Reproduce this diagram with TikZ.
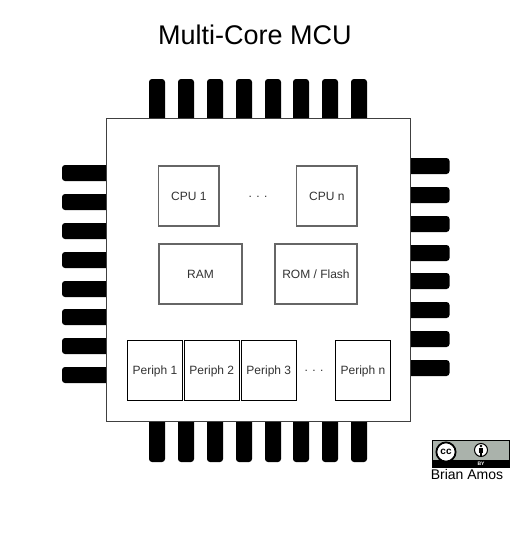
\documentclass[tikz,border=0pt]{standalone}
\usepackage{fontspec}
\setmainfont{Liberation Sans}
\definecolor{boxgray}{HTML}{666666}
\definecolor{labelgray}{HTML}{333333}
\definecolor{ccgray}{HTML}{AAB2AB}
\tikzset{
	pinbox/.style={fill=black,rounded corners=3pt,inner sep=0pt},
	corebox/.style={draw=boxgray,line width=1.2pt,fill=white,inner sep=0pt,text=labelgray,font=\fontsize{12}{14}\selectfont},
	periphbox/.style={draw=black,line width=1pt,fill=white,inner sep=0pt,text=labelgray,text depth=0pt,font=\fontsize{12}{14}\selectfont,minimum width=55.5pt,minimum height=60pt},
	dotslabel/.style={text=labelgray,font=\fontsize{12}{14}\selectfont},
}
\begin{document}
\begin{tikzpicture}[x=1pt,y=-1pt]
	\useasboundingbox (0,0) rectangle (523,541);
	\node[font=\fontsize{27}{30}\selectfont] (title) at (255,35) {Multi-Core MCU};
	% pins
	\foreach \x [count=\i] in {157,186,215,244,273,301,330,359} {
		\node[pinbox,minimum width=16pt,minimum height=50pt] (ntop\i) at (\x,104) {};
		\node[pinbox,minimum width=16pt,minimum height=50pt] (nbot\i) at (\x,437) {};
	}
	\foreach \y [count=\i] in {173,202,231,260,289,317,346,375}
		\node[pinbox,minimum width=54pt,minimum height=16pt] (nleft\i) at (89,\y) {};
	\foreach \y [count=\i] in {166,195,224,253,281,310,339,368}
		\node[pinbox,minimum width=49pt,minimum height=16pt] (nright\i) at (425,\y) {};
	% package
	\node[draw=black!75,line width=1pt,fill=white,minimum width=304pt,minimum height=303pt,inner sep=0pt] (chip) at (258,269.5) {};
	% cores and memory
	\node[corebox,minimum width=60.5pt,minimum height=60pt] (cpua) at (188.8,196) {CPU 1};
	\node[dotslabel] (cpudots) at (258,197) {. . .};
	\node[corebox,minimum width=60.5pt,minimum height=60pt] (cpub) at (326.8,196) {CPU n};
	\node[corebox,minimum width=83pt,minimum height=60pt] (ram) at (200.5,274) {RAM};
	\node[corebox,minimum width=82pt,minimum height=60pt] (rom) at (316,274) {ROM / Flash};
	% peripherals
	\node[periphbox] (pera) at (155,370) {Periph 1};
	\node[periphbox] (perb) at (211.8,370) {Periph 2};
	\node[periphbox] (perc) at (268.8,370) {Periph 3};
	\node[dotslabel] (perdots) at (314,371) {. . .};
	\node[periphbox] (pern) at (363,370) {Periph n};
	% licence badge
	\fill[black] (432,440) rectangle (510,468);
	\fill[ccgray] (433,441) rectangle (509,460);
	\draw[black,line width=1.8pt,fill=white] (446,452) circle (9.6pt);
	\node[font=\bfseries\fontsize{10}{10}\selectfont,inner sep=0pt] (cclabel) at (446,451.5) {cc};
	\draw[black,line width=1pt,fill=white] (481,450) circle (6.5pt);
	\fill[black] (481,446) circle (1.4pt);
	\fill[black] (479,448) rectangle (483,452.5);
	\fill[black] (480,452.5) rectangle (482,455.5);
	\node[text=white,font=\bfseries\fontsize{5}{5}\selectfont,inner sep=0pt] (bylabel) at (481,464) {BY};
	\node[font=\fontsize{14}{15}\selectfont,inner sep=0pt] (credit) at (467,474.5) {Brian Amos};
\end{tikzpicture}
\end{document}
